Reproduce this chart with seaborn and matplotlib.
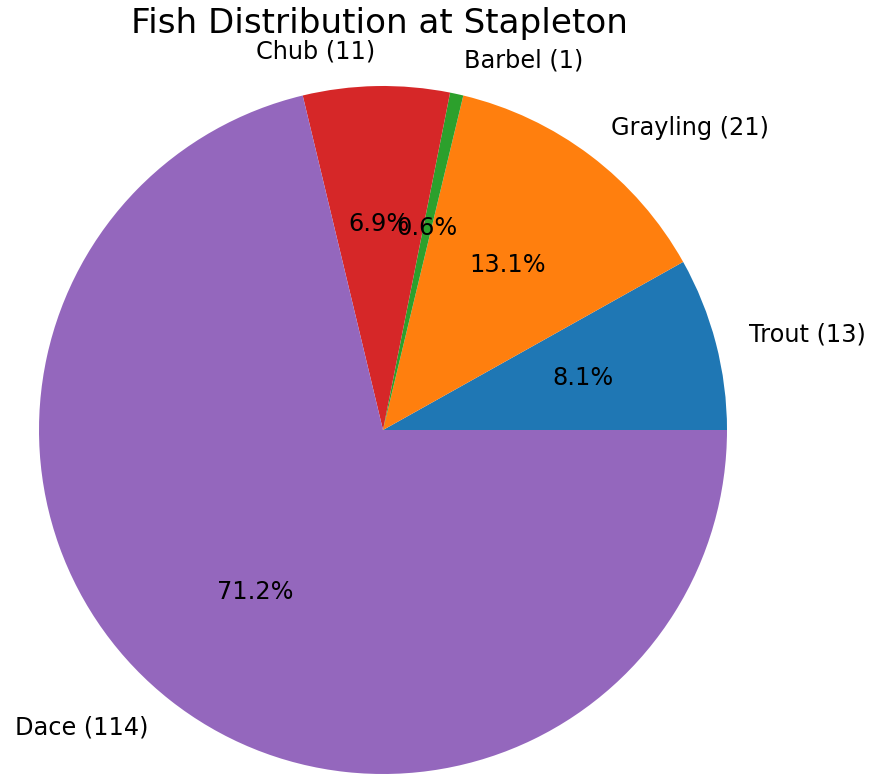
import matplotlib
matplotlib.use("Agg")
import matplotlib.pyplot as plt
import seaborn as sns

species = ["Trout", "Grayling", "Barbel", "Chub", "Dace"]
counts = [13, 21, 1, 11, 114]
title = "Fish Distribution at Stapleton"

labels = [f"{s} ({c})" for s, c in zip(species, counts)]
colors = sns.color_palette("tab10", len(species))

W, H, DPI = 871, 775, 120
fig = plt.figure(figsize=(W / DPI, H / DPI), dpi=DPI)

cx, cy, r = 383, 430, 344  # pixel centre and radius
side = 2.5 * r
ax = fig.add_axes([(cx - side / 2) / W, (H - cy - side / 2) / H, side / W, side / H])
ax.pie(counts, labels=labels, colors=colors, autopct="%1.1f%%",
       textprops={"fontsize": 14.4})
ax.set_xlim(-1.25, 1.25)
ax.set_ylim(-1.25, 1.25)
ax.set_aspect("equal")
ax.axis("off")

fig.text(379 / W, 1 - 24 / H, title, fontsize=20.5, ha="center", va="center")

fig.savefig("out.png", dpi=DPI)
